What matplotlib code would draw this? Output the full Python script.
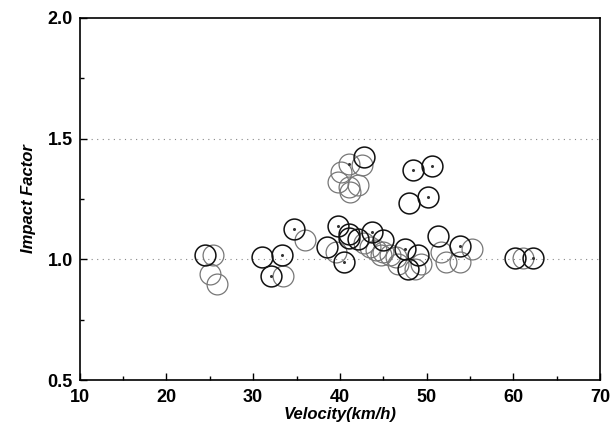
import matplotlib
matplotlib.use("Agg")
import matplotlib.pyplot as plt
from matplotlib.ticker import MultipleLocator

# dark open circles
x_dark = [24.5, 31.0, 33.3, 32.0, 34.7, 38.5, 39.75, 41.0, 40.5, 43.7, 42.1, 47.5,
          51.3, 53.8, 60.2, 62.3, 42.8, 48.4, 50.6, 48.0, 50.1, 45.0, 41.1, 47.8, 49.0]
y_dark = [1.02, 1.01, 1.02, 0.93, 1.127, 1.05, 1.14, 1.107, 0.99, 1.114, 1.086, 1.045,
          1.096, 1.055, 1.007, 1.007, 1.425, 1.37, 1.386, 1.233, 1.26, 1.08, 1.09, 0.96, 1.02]
# light (gray) open circles
x_light = [25.4, 25.0, 25.8, 33.4, 36.0, 39.5, 61.1, 41.0, 40.1, 39.8, 41.0, 42.1, 42.6,
           41.2, 42.8, 43.5, 44.2, 45.0, 45.8, 46.5, 46.7, 49.4, 51.7, 52.2, 53.8, 55.2,
           44.7, 48.6]
y_light = [1.02, 0.94, 0.90, 0.93, 1.08, 1.03, 1.007, 1.394, 1.36, 1.32, 1.30, 1.31, 1.39,
           1.28, 1.07, 1.05, 1.04, 1.03, 1.02, 1.01, 0.98, 0.98, 1.03, 0.99, 0.99, 1.045,
           1.02, 0.96]
# circles with a centre dot
x_dot = [33.3, 32.0, 34.7, 39.75, 40.5, 43.7, 47.5, 53.8, 62.3, 48.4, 50.6, 50.1, 41.0]
y_dot = [1.02, 0.93, 1.127, 1.14, 0.99, 1.114, 1.045, 1.055, 1.007, 1.37, 1.386, 1.26, 1.394]

x_ticks = [10, 20, 30, 40, 50, 60, 70]
y_ticks = [0.5, 1.0, 1.5, 2.0]

plt.rcParams['font.family'] = ['Liberation Sans', 'DejaVu Sans']

fig = plt.figure(figsize=(6.13, 4.36), dpi=100)
ax = fig.add_axes([0.130, 0.128, 0.849, 0.831])

for yv in (1.0, 1.5):
    ax.axhline(yv, color='#888888', lw=0.8, ls=(0, (1, 4)), zorder=0)

ax.plot(x_light, y_light, ls='none', marker='o', ms=15, mfc='none',
        mec='#777777', mew=0.9)
ax.plot(x_dark, y_dark, ls='none', marker='o', ms=15, mfc='none',
        mec='#111111', mew=1.1)
ax.plot(x_dot, y_dot, ls='none', marker='o', ms=1.2, color='#333333')

ax.set_xlim(10, 70)
ax.set_ylim(0.5, 2.0)
ax.set_xticks(x_ticks)
ax.set_yticks(y_ticks)
ax.xaxis.set_minor_locator(MultipleLocator(5))
ax.yaxis.set_minor_locator(MultipleLocator(0.25))
ax.set_xticklabels([str(v) for v in x_ticks], fontsize=13, fontweight='bold')
ax.set_yticklabels([f"{v:.1f}" for v in y_ticks], fontsize=13, fontweight='bold')
ax.tick_params(which='major', direction='in', length=5, width=1)
ax.tick_params(axis='x', which='major', pad=6)
ax.tick_params(axis='y', which='major', pad=5)
ax.tick_params(which='minor', direction='in', length=3, width=1)
for s in ax.spines.values():
    s.set_linewidth(1.2)

ax.set_xlabel('Velocity(km/h)', fontsize=12, fontweight='bold', style='italic', labelpad=1)
ax.set_ylabel('Impact Factor', fontsize=12, fontweight='bold', style='italic', labelpad=8)

fig.savefig('out.png', dpi=100)
